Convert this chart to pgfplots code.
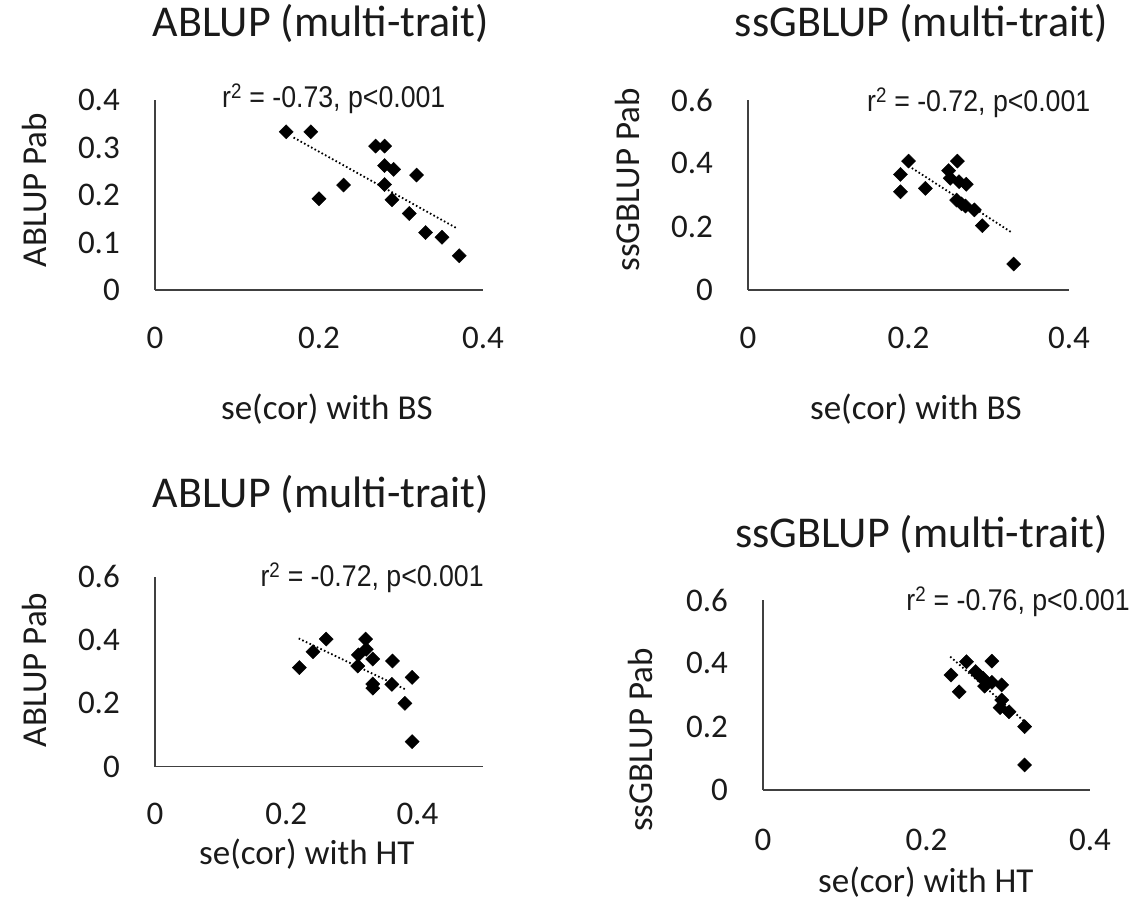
\documentclass[border=0pt]{standalone}
\usepackage{pgfplots}
\pgfplotsset{compat=1.18}
\usepackage{fontspec}
\setmainfont{Carlito}
\newfontfamily\annfont[FakeStretch=0.89]{Liberation Sans}
\definecolor{axgray}{HTML}{404040}
\definecolor{txt}{HTML}{1A1A1A}

\tikzset{ann/.style={font=\annfont\fontsize{30}{34}\selectfont, text=txt, anchor=base}}
\pgfplotsset{
  panel/.style={
    scale only axis, height=190pt,
    axis x line=bottom, axis y line=left,
    axis line style={-, axgray, line width=1.6pt},
    major tick length=0pt,
    /pgf/number format/assume math mode=true,
    tick label style={font=\fontsize{33}{38}\selectfont, text=txt},
    xticklabel style={anchor=base, inner sep=0pt},
    yticklabel style={anchor=east, inner sep=0pt, xshift=-35pt},
    label style={font=\fontsize{35}{40}\selectfont, text=txt},
    title style={font=\fontsize{44}{50}\selectfont, text=txt, anchor=base},
    xlabel style={anchor=base},
    ylabel style={anchor=center},
    clip=false,
  },
  pts/.style={only marks, mark=square*, mark size=5pt, black,
    mark options={rotate=45, fill=black, draw=black}},
  trend/.style={no marks, black, line width=1.8pt, dash pattern=on 1.6pt off 2.4pt},
}

\begin{document}
\begin{tikzpicture}
\useasboundingbox (0pt,0pt) rectangle (1132pt,907pt);

% ---------- Panel 1 ----------
\begin{axis}[panel, at={(155pt,617pt)}, anchor=south west, width=328pt,
  xmin=0, xmax=0.4, ymin=0, ymax=0.4,
  xtick={0,0.2,0.4}, ytick={0,0.1,0.2,0.3,0.4},
  xticklabel style={yshift=-59pt},
  title={ABLUP (multi-trait)}, title style={at={(axis description cs:0.506,1.305)}},
  xlabel={se(cor) with BS}, xlabel style={at={(axis description cs:0.524,-0.684)}},
  ylabel={ABLUP Pab}, ylabel style={at={(axis description cs:-0.366,0.526)}},
]
\addplot[pts] coordinates {
 (0.16,0.333) (0.19,0.333) (0.269,0.303) (0.280,0.303) (0.280,0.262)
 (0.291,0.254) (0.319,0.242) (0.230,0.221) (0.280,0.222) (0.200,0.192)
 (0.289,0.190) (0.310,0.161) (0.330,0.121) (0.350,0.111) (0.371,0.072)};
\addplot[trend] coordinates {(0.169,0.321) (0.368,0.130)};
\node[ann] at (axis cs:0.218,0.385) {r\textsuperscript{2} = -0.73, p<0.001};
\end{axis}

% ---------- Panel 2 ----------
\begin{axis}[panel, at={(748pt,617pt)}, anchor=south west, width=321pt,
  xmin=0, xmax=0.4, ymin=0, ymax=0.6,
  xtick={0,0.2,0.4}, ytick={0,0.2,0.4,0.6},
  xticklabel style={yshift=-59pt},
  title={ssGBLUP (multi-trait)}, title style={at={(axis description cs:0.540,1.305)}},
  xlabel={se(cor) with BS}, xlabel style={at={(axis description cs:0.523,-0.684)}},
  ylabel={ssGBLUP Pab}, ylabel style={at={(axis description cs:-0.374,0.579)}},
]
\addplot[pts] coordinates {
 (0.200,0.407) (0.190,0.365) (0.190,0.310) (0.221,0.321) (0.261,0.407)
 (0.250,0.377) (0.252,0.353) (0.263,0.342) (0.272,0.334) (0.260,0.284)
 (0.271,0.265) (0.282,0.253) (0.292,0.203) (0.331,0.082) (0.266,0.272)};
\addplot[trend] coordinates {(0.200,0.392) (0.329,0.181)};
\node[ann] at (axis cs:0.2875,0.563) {r\textsuperscript{2} = -0.72, p<0.001};
\end{axis}

% ---------- Panel 3 ----------
\begin{axis}[panel, at={(155pt,140.3pt)}, anchor=south west, width=328pt,
  xmin=0, xmax=0.5, ymin=0, ymax=0.6,
  xtick={0,0.2,0.4}, ytick={0,0.2,0.4,0.6},
  xticklabel style={yshift=-58pt},
  title={ABLUP (multi-trait)}, title style={at={(axis description cs:0.506,1.335)}},
  xlabel={se(cor) with HT}, xlabel style={at={(axis description cs:0.463,-0.517)}},
  ylabel={ABLUP Pab}, ylabel style={at={(axis description cs:-0.366,0.509)}},
]
\addplot[pts] coordinates {
 (0.220,0.313) (0.241,0.363) (0.261,0.403) (0.321,0.403) (0.322,0.371)
 (0.310,0.353) (0.332,0.340) (0.309,0.318) (0.362,0.334) (0.392,0.282)
 (0.332,0.261) (0.332,0.248) (0.361,0.260) (0.381,0.200) (0.392,0.079)};
\addplot[trend] coordinates {(0.219,0.405) (0.384,0.242)};
\node[ann] at (axis cs:0.331,0.568) {r\textsuperscript{2} = -0.72, p<0.001};
\end{axis}

% ---------- Panel 4 ----------
\begin{axis}[panel, at={(763pt,117pt)}, anchor=south west, width=327pt,
  xmin=0, xmax=0.4, ymin=0, ymax=0.6,
  xtick={0,0.2,0.4}, ytick={0,0.2,0.4,0.6},
  xticklabel style={yshift=-60pt},
  title={ssGBLUP (multi-trait)}, title style={at={(axis description cs:0.485,1.247)}},
  xlabel={se(cor) with HT}, xlabel style={at={(axis description cs:0.498,-0.542)}},
  ylabel={ssGBLUP Pab}, ylabel style={at={(axis description cs:-0.376,0.263)}},
]
\addplot[pts] coordinates {
 (0.230,0.363) (0.240,0.310) (0.249,0.405) (0.280,0.407) (0.260,0.374)
 (0.269,0.353) (0.271,0.328) (0.292,0.332) (0.292,0.284) (0.290,0.260)
 (0.301,0.247) (0.320,0.200) (0.320,0.079) (0.265,0.360) (0.280,0.340)};
\addplot[trend] coordinates {(0.229,0.421) (0.320,0.216)};
\node[ann] at (axis cs:0.312,0.568) {r\textsuperscript{2} = -0.76, p<0.001};
\end{axis}
\end{tikzpicture}
\end{document}
